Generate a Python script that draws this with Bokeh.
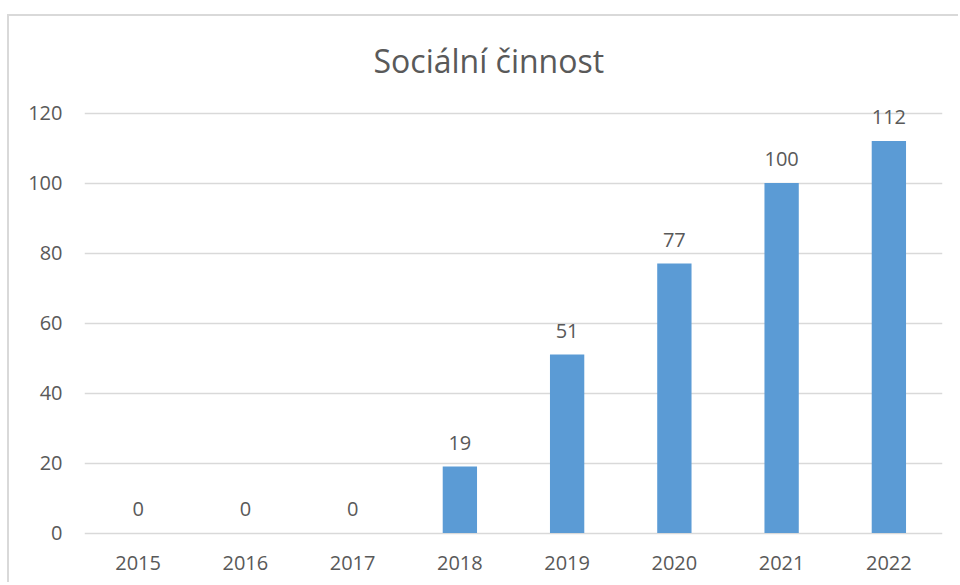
from bokeh.plotting import figure
from bokeh.models import ColumnDataSource, FixedTicker, LabelSet, Range1d, FactorRange
from bokeh.core.properties import value
from bokeh.embed import file_html
from bokeh.resources import INLINE

years = ["2015", "2016", "2017", "2018", "2019", "2020", "2021", "2022"]
counts = [0, 0, 0, 19, 51, 77, 100, 112]
y_ticks = [0, 20, 40, 60, 80, 100, 120]
title_text = "Sociální činnost"

FONT = "Open Sans"
TXT = "#595959"

src = ColumnDataSource(dict(year=years, count=counts, label=[str(c) for c in counts]))

p = figure(
    x_range=FactorRange(*years),
    y_range=Range1d(-1, 125),
    frame_width=858, frame_height=441,
    min_border_left=75, min_border_right=18, min_border_top=79, min_border_bottom=48,
    output_backend="svg", toolbar_location=None,
    background_fill_color="white", border_fill_color="white",
)
p.margin = (16, 0, 0, 9)
# chart-area border: only its top and left edges fall inside the window
p.styles = {"box-shadow": "-2px -2px 0 0 #d9d9d9"}
p.outline_line_color = None

p.title.text = title_text
p.title.align = "left"
p.title.offset = 289
p.title.text_font = FONT
p.title.text_font_size = "32px"
p.title.text_font_style = "normal"
p.title.text_color = TXT
p.title.standoff = 27

p.vbar(x="year", top="count", width=0.32, source=src, fill_color="#5B9BD5", line_color=None)

labels = LabelSet(x="year", y="count", text="label", source=src, text_align="center",
                  text_baseline="alphabetic", y_offset=17, text_font=value(FONT),
                  text_font_size=value("20px"), text_color=TXT)
p.add_layout(labels)

p.yaxis.ticker = FixedTicker(ticks=y_ticks)
for ax in (p.xaxis[0], p.yaxis[0]):
    ax.axis_line_color = None
    ax.major_tick_line_color = None
    ax.minor_tick_line_color = None
    ax.major_tick_out = 0
    ax.major_tick_in = 0
    ax.major_label_text_font = FONT
    ax.major_label_text_font_size = "20px"
    ax.major_label_text_color = TXT
p.yaxis.major_label_standoff = 22
p.xaxis.major_label_standoff = 19

p.xgrid.grid_line_color = None
p.ygrid.grid_line_color = "#d9d9d9"
p.ygrid.grid_line_width = 1.5

open("out.html", "w").write(file_html(p, INLINE))
